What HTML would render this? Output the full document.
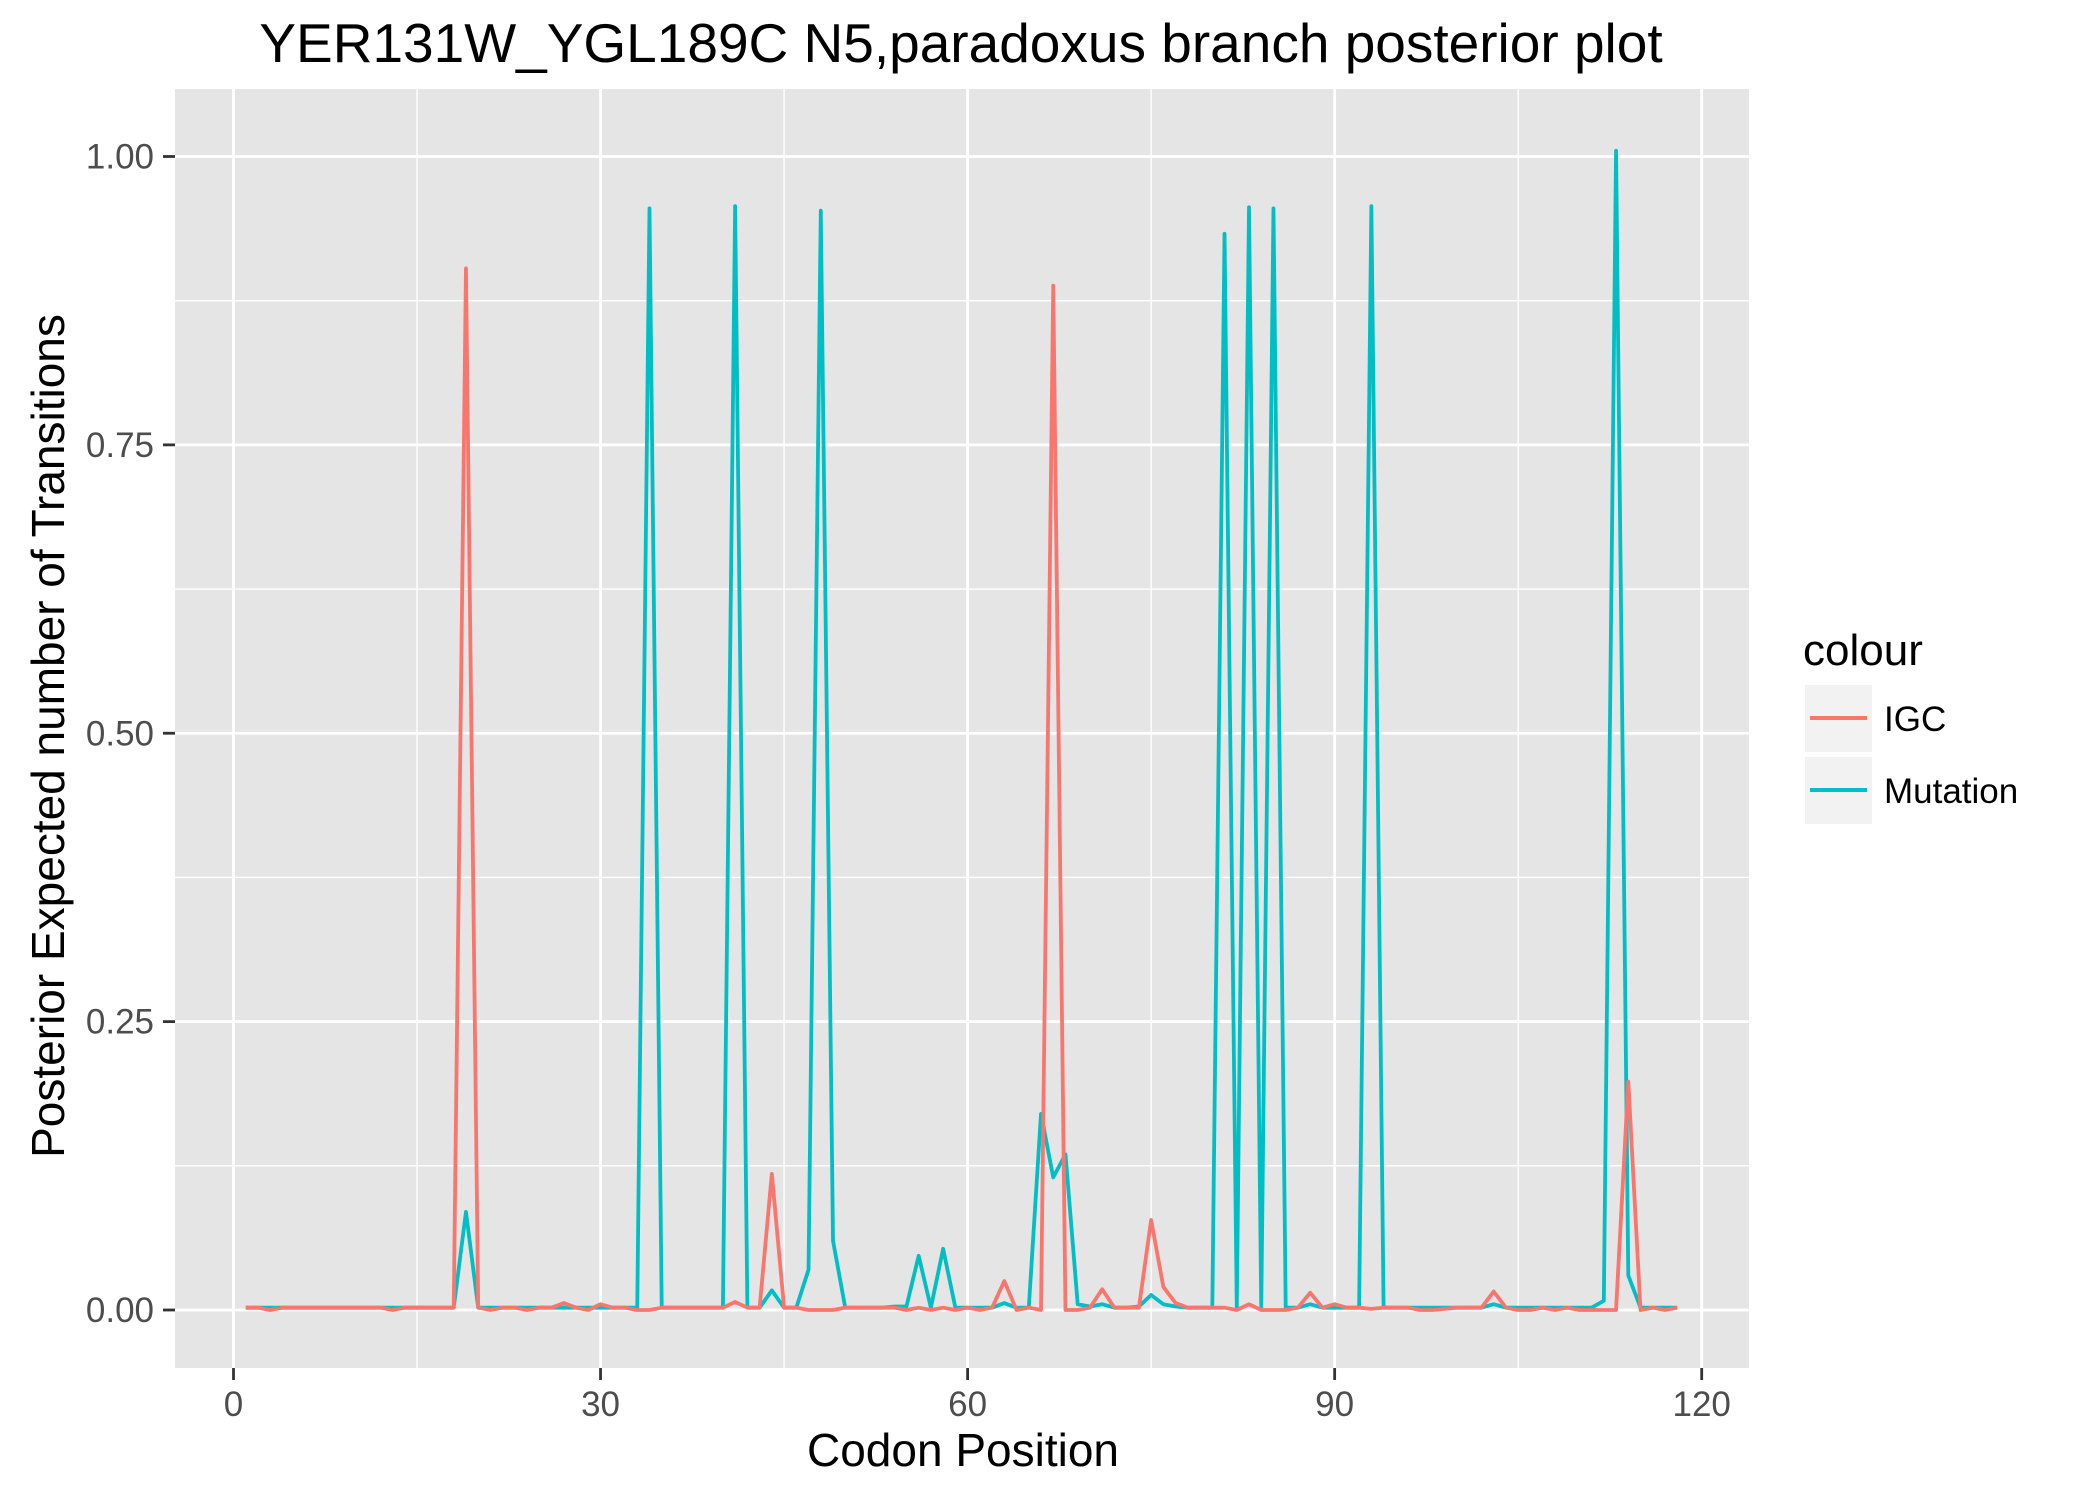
<!DOCTYPE html>
<html><head><meta charset="utf-8">
<style>
html,body{margin:0;padding:0;background:#fff;}
svg{display:block;font-family:"Liberation Sans",Arial,sans-serif;}
</style></head>
<body>
<svg id="chart" width="2099" height="1499" viewBox="0 0 2099 1499" xmlns="http://www.w3.org/2000/svg">
<rect x="0" y="0" width="2099" height="1499" fill="#ffffff"/>
<text x="961" y="62" font-size="55" text-anchor="middle" fill="#000">YER131W_YGL189C N5,paradoxus branch posterior plot</text>
<rect x="175" y="89" width="1574" height="1279" fill="#E5E5E5"/>
<g id="grid"></g>
<g id="axes"></g>
<g id="series"></g>
<text x="963" y="1466" font-size="46" text-anchor="middle" fill="#000">Codon Position</text>
<text transform="translate(64,736) rotate(-90)" font-size="46" text-anchor="middle" fill="#000">Posterior Expected number of Transitions</text>
<g>
<text x="1803" y="665" font-size="44" fill="#000">colour</text>
<g>
<rect x="1805" y="685" width="67" height="67" fill="#F2F2F2"/>
<line x1="1810" y1="718" x2="1867" y2="718" stroke="#F8766D" stroke-width="4"/>
<text x="1884" y="731" font-size="35" fill="#000">IGC</text>
</g>
<g>
<rect x="1805" y="757" width="67" height="67" fill="#F2F2F2"/>
<line x1="1810" y1="790" x2="1867" y2="790" stroke="#00BFC4" stroke-width="4"/>
<text x="1884" y="803" font-size="35" fill="#000">Mutation</text>
</g>
</g>
</svg>
<script>
const xTicks = [0, 30, 60, 90, 120];
const xMinor = [15, 45, 75, 105];
const yTicks = [0, 0.25, 0.5, 0.75, 1.0];
const yTickLabels = ["0.00", "0.25", "0.50", "0.75", "1.00"];
const yMinor = [0.125, 0.375, 0.625, 0.875];
const igc = [
0.002,0.002,0.000,0.002,0.002,0.002,0.002,0.002,0.002,0.002,
0.002,0.002,0.000,0.002,0.002,0.002,0.002,0.002,0.903,0.002,
0.000,0.002,0.002,0.000,0.002,0.002,0.006,0.002,0.000,0.005,
0.002,0.002,0.000,0.000,0.002,0.002,0.002,0.002,0.002,0.002,
0.007,0.002,0.002,0.118,0.002,0.002,0.000,0.000,0.000,0.002,
0.002,0.002,0.002,0.002,0.000,0.002,0.000,0.002,0.000,0.002,
0.000,0.002,0.025,0.000,0.002,0.000,0.888,0.000,0.000,0.002,
0.018,0.002,0.002,0.002,0.078,0.020,0.006,0.002,0.002,0.002,
0.002,0.000,0.005,0.000,0.000,0.000,0.002,0.015,0.002,0.005,
0.002,0.002,0.001,0.002,0.002,0.002,0.000,0.000,0.001,0.002,
0.002,0.002,0.016,0.002,0.000,0.000,0.002,0.000,0.002,0.000,
0.000,0.000,0.000,0.198,0.000,0.002,0.000,0.002];
const mutation = [
0.002,0.002,0.002,0.002,0.002,0.002,0.002,0.002,0.002,0.002,
0.002,0.002,0.002,0.002,0.002,0.002,0.002,0.002,0.085,0.002,
0.002,0.002,0.002,0.002,0.002,0.002,0.002,0.002,0.002,0.002,
0.002,0.002,0.002,0.955,0.002,0.002,0.002,0.002,0.002,0.002,
0.957,0.002,0.002,0.017,0.002,0.002,0.035,0.953,0.060,0.002,
0.002,0.002,0.002,0.003,0.003,0.047,0.002,0.053,0.002,0.002,
0.002,0.002,0.006,0.002,0.002,0.170,0.115,0.135,0.005,0.003,
0.005,0.002,0.002,0.003,0.013,0.005,0.003,0.002,0.002,0.002,
0.933,0.002,0.956,0.002,0.955,0.002,0.002,0.005,0.002,0.002,
0.002,0.002,0.957,0.002,0.002,0.002,0.002,0.002,0.002,0.002,
0.002,0.002,0.005,0.002,0.002,0.002,0.002,0.002,0.002,0.002,
0.002,0.008,1.005,0.030,0.002,0.002,0.002,0.002];
const positions = igc.map((_, i) => i + 1);

const NS = "http://www.w3.org/2000/svg";
const X0 = 233.5, XS = 12.235, Y0 = 1310, YS = 1153.5;
const PL = 175, PR = 1749, PT = 89, PB = 1368;
function sx(v){ return X0 + v * XS; }
function sy(v){ return Y0 - v * YS; }
function mk(tag, attrs, parent){
  const e = document.createElementNS(NS, tag);
  for (const k in attrs) e.setAttribute(k, attrs[k]);
  parent.appendChild(e);
  return e;
}
const grid = document.getElementById('grid');
const axes = document.getElementById('axes');
const series = document.getElementById('series');

yMinor.forEach(v => {
  const l = mk('line', {x1: PL, x2: PR, y1: sy(v), y2: sy(v), stroke: '#fff', 'stroke-width': 1.4}, grid);
  
  
});
xMinor.forEach(v => {
  const l = mk('line', {x1: sx(v), x2: sx(v), y1: PT, y2: PB, stroke: '#fff', 'stroke-width': 1.4}, grid);
  
  
});
yTicks.forEach((v, i) => {
  const l = mk('line', {x1: PL, x2: PR, y1: sy(v), y2: sy(v), stroke: '#fff', 'stroke-width': 2.8}, grid);
  
  
  const t = mk('line', {x1: 163, x2: PL, y1: sy(v), y2: sy(v), stroke: '#333', 'stroke-width': 2.8}, axes);
  
  
  const tx = mk('text', {x: 154, y: sy(v) + 12, 'font-size': 35, 'text-anchor': 'end', fill: '#4D4D4D'}, axes);
  tx.textContent = yTickLabels[i];
  
  
});
xTicks.forEach(v => {
  const l = mk('line', {x1: sx(v), x2: sx(v), y1: PT, y2: PB, stroke: '#fff', 'stroke-width': 2.8}, grid);
  
  
  const t = mk('line', {x1: sx(v), x2: sx(v), y1: PB, y2: PB + 12, stroke: '#333', 'stroke-width': 2.8}, axes);
  
  
  const tx = mk('text', {x: sx(v), y: 1416, 'font-size': 35, 'text-anchor': 'middle', fill: '#4D4D4D'}, axes);
  tx.textContent = String(v);
  
  
});
function drawLine(vals, color, name){
  const d = vals.map((v, i) => (i ? 'L' : 'M') + sx(positions[i]).toFixed(2) + ',' + sy(v).toFixed(2)).join(' ');
  const p = mk('path', {d: d, fill: 'none', stroke: color, 'stroke-width': 3.8, 'stroke-linejoin': 'round'}, series);
  
  
}
drawLine(mutation, '#00BFC4', 'mutation-line');
drawLine(igc, '#F8766D', 'igc-line');
</script>
</body></html>
